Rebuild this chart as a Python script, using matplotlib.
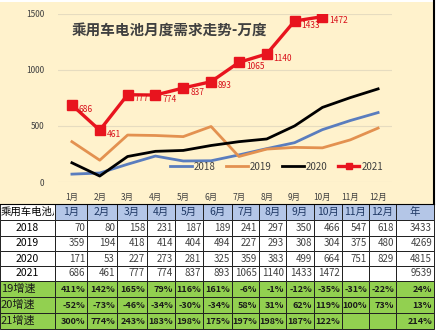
import matplotlib.pyplot as plt
from matplotlib.patches import Rectangle
from matplotlib.transforms import Bbox, TransformedBbox

plt.rcParams['font.family'] = ['Noto Sans CJK SC', 'DejaVu Sans']

months = ['1月', '2月', '3月', '4月', '5月', '6月', '7月', '8月', '9月', '10月', '11月', '12月']
d2018 = [70, 80, 158, 231, 187, 189, 241, 297, 350, 466, 547, 618]
d2019 = [359, 194, 418, 414, 404, 494, 227, 293, 308, 304, 375, 480]
d2020 = [171, 53, 227, 273, 281, 325, 359, 383, 499, 664, 751, 829]
d2021 = [686, 461, 777, 774, 837, 893, 1065, 1140, 1433, 1472]
year_totals = ['3433', '4269', '4815', '9539']
g19 = ['411%', '142%', '165%', '79%', '116%', '161%', '-6%', '-1%', '-12%', '-35%', '-31%', '-22%', '24%']
g20 = ['-52%', '-73%', '-46%', '-34%', '-30%', '-34%', '58%', '31%', '62%', '119%', '100%', '73%', '13%']
g21 = ['300%', '774%', '243%', '183%', '198%', '175%', '197%', '198%', '187%', '122%', '', '', '214%']

W, H = 436, 333
fig = plt.figure(figsize=(W / 100, H / 100), dpi=100)

# pixel-space canvas for backgrounds and the table
bg = fig.add_axes([0, 0, 1, 1])
bg.set_xlim(0, W)
bg.set_ylim(H, 0)
bg.axis('off')
bg.add_patch(Rectangle((0, 2), 434, 202, facecolor='#FFF2CC', edgecolor='none'))
bg.plot([434, 434], [0, 204], color='black', lw=1.5)
bg.plot([0, 434], [204, 204], color='black', lw=0.8)

# chart
ax = fig.add_axes([58 / W, 1 - 182 / H, (392 - 58) / W, (182 - 13.5) / H])
ax.set_facecolor('none')
x = list(range(12))
ax.plot(x, d2018, color='#5A7DBE', lw=2, label='2018')
ax.plot(x, d2019, color='#E39150', lw=2, label='2019')
ax.plot(x, d2020, color='black', lw=2, label='2020')
ax.plot(x[:len(d2021)], d2021, color='#E8141E', lw=2.4, marker='s', ms=6.5, label='2021')
for i, v in enumerate(d2021):
    ax.annotate(str(v), (i, v), xytext=(5, -3), textcoords='offset points',
                ha='left', va='center', fontsize=6, color='#D8101A')

ax.set_xlim(-0.5, 11.5)
ax.set_ylim(0, 1500)
ax.set_yticks([0, 500, 1000, 1500])
ax.set_xticks(x)
ax.set_xticklabels(months)
ax.tick_params(axis='both', length=0, labelsize=6, colors='#404040')
ax.tick_params(axis='x', pad=8)
ax.tick_params(axis='y', pad=10)
ax.grid(axis='y', color='#E6DCC0', lw=0.8)
for s in ax.spines.values():
    s.set_visible(False)
ax.text(0.04, 0.95, '乘用车电池月度需求走势-万度', transform=ax.transAxes,
        fontsize=10.5, fontweight='bold', color='#404040', va='top', ha='left')
ax.legend(loc='center', bbox_to_anchor=(0.655, 0.09), ncol=4, frameon=False,
          fontsize=7, handlelength=2.2, columnspacing=1.1, handletextpad=0.2,
          labelcolor='#404040', markerscale=0.7)

# table
col_edges = [0, 55, 87, 117, 147, 175, 203, 232, 259, 286, 314, 342, 369, 396, 434]
row_edges = [204, 220, 236, 251, 266, 281, 297, 313, 329]

header = ['乘用车电池月度'] + months + ['年']
rows = [
    ['2018'] + [str(v) for v in d2018] + [year_totals[0]],
    ['2019'] + [str(v) for v in d2019] + [year_totals[1]],
    ['2020'] + [str(v) for v in d2020] + [year_totals[2]],
    ['2021'] + [str(v) for v in d2021] + ['', ''] + [year_totals[3]],
    ['19增速'] + g19,
    ['20增速'] + g20,
    ['21增速'] + g21,
]
table = [header] + rows

for r, row in enumerate(table):
    y0, y1 = row_edges[r], row_edges[r + 1]
    for c, txt in enumerate(row):
        x0, x1 = col_edges[c], col_edges[c + 1]
        if r == 0:
            fc = 'white' if c == 0 else '#B4C6E7'
        elif r >= 5:
            fc = '#92D050'
        else:
            fc = 'white'
        cell = Rectangle((x0, y0), x1 - x0, y1 - y0, facecolor=fc,
                         edgecolor='#202020', lw=0.7)
        bg.add_patch(cell)
        yc = (y0 + y1) / 2
        if r == 0:
            if c == 0:
                # long header: cut off at the cell border
                t = bg.text(x0 + 1, yc, txt, ha='left', va='center', fontsize=7.5,
                            color='black', clip_on=True)
                t.set_clip_box(TransformedBbox(Bbox([[x0, y0], [x1 - 1, y1]]), bg.transData))
            else:
                bg.text((x0 + x1) / 2, yc, txt, ha='center', va='center',
                        fontsize=7.5, color='#1F3864', zorder=4)
        elif c == 0:
            if r >= 5:
                bg.text(x0 + 1, yc, txt, ha='left', va='center', fontsize=8, color='#1A1A1A')
            else:
                bg.text((x0 + x1) / 2, yc, txt, ha='center', va='center',
                        fontsize=7.5, color='black')
        elif r >= 5:
            bg.text(x1 - 2, yc, txt, ha='right', va='center', fontsize=6.5,
                    color='#1A1A1A', fontweight='bold')
        else:
            bg.text(x1 - 2, yc, txt, ha='right', va='center', fontsize=7, color='#404040')

fig.savefig('out.png', dpi=100)
